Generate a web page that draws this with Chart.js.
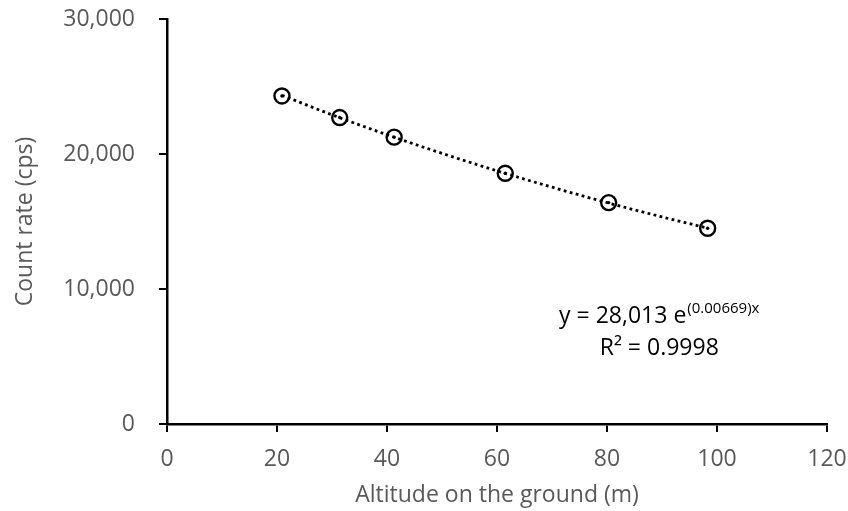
<!DOCTYPE html>
<html>
<head>
<meta charset="utf-8">
<script src="https://cdn.jsdelivr.net/npm/chart.js@4"></script>
<style>
  html, body { margin: 0; padding: 0; background: #fff; }
  canvas { display: block; }
</style>
</head>
<body>
<canvas id="c" width="848" height="511"></canvas>
<script>
// ---- data ----
const altitude = [20.9, 31.4, 41.3, 61.5, 80.3, 98.3];
const countRate = [24300, 22700, 21250, 18570, 16400, 14500];
// dotted trend line
const trendX = [20.9, 30, 40, 50, 60, 70, 80, 90, 98.3];
const trendY = [24350, 22900, 21430, 20050, 18750, 17540, 16400, 15340, 14510];
const xTicks = [0, 20, 40, 60, 80, 100, 120];
const yTicks = [0, 10000, 20000, 30000];
const xTitle = 'Altitude on the ground (m)';
const yTitle = 'Count rate (cps)';
const eqMain = 'y = 28,013 e';
const eqSup = '(0.00669)x';
const r2Label = 'R\u00B2 = 0.9998';

const FONT = '"Open Sans", "Liberation Sans", sans-serif';
const GREY = '#595959';
const FS = 23;

const pts = altitude.map((x, i) => ({ x, y: countRate[i] }));
const trend = trendX.map((x, i) => ({ x, y: trendY[i] }));

const eqPlugin = {
  id: 'eq',
  afterDraw(chart) {
    const ctx = chart.ctx;
    const xs = chart.scales.x, ys = chart.scales.y;
    const cx = xs.getPixelForValue(89.5);
    const y1 = ys.getPixelForValue(7500);
    const y2 = ys.getPixelForValue(5100);
    ctx.save();
    ctx.fillStyle = '#000';
    ctx.textBaseline = 'alphabetic';
    ctx.font = FS + 'px ' + FONT;
    const wMain = ctx.measureText(eqMain).width;
    ctx.font = '15px ' + FONT;
    const wSup = ctx.measureText(eqSup).width;
    const total = wMain + 1 + wSup;
    let x0 = cx - total / 2;
    ctx.font = FS + 'px ' + FONT;
    ctx.textAlign = 'left';
    ctx.fillText(eqMain, x0, y1);
    ctx.font = '15px ' + FONT;
    ctx.fillText(eqSup, x0 + wMain + 1, y1 - 10);
    ctx.font = FS + 'px ' + FONT;
    ctx.textAlign = 'center';
    ctx.fillText(r2Label, cx, y2);
    ctx.restore();
  }
};

new Chart(document.getElementById('c'), {
  type: 'scatter',
  data: {
    datasets: [
      {
        label: 'trend',
        data: trend,
        showLine: true,
        borderColor: '#000',
        borderWidth: 2.8,
        borderDash: [2.8, 3.4],
        pointRadius: 0,
        cubicInterpolationMode: 'monotone',
        fill: false,
        order: 3
      },
      {
        label: 'circles',
        data: pts,
        pointStyle: 'circle',
        pointRadius: 7.5,
        pointBorderWidth: 2.4,
        pointBorderColor: '#000',
        pointBackgroundColor: 'rgba(255,255,255,0)',
        showLine: false,
        order: 2
      },
      {
        label: 'dots',
        data: pts,
        pointStyle: 'circle',
        pointRadius: 1.7,
        pointBorderWidth: 0,
        pointBackgroundColor: '#000',
        showLine: false,
        order: 1
      }
    ]
  },
  options: {
    responsive: false,
    animation: false,
    devicePixelRatio: 1,
    layout: { padding: { top: 19, right: 21, left: 0, bottom: 0 } },
    plugins: { legend: { display: false }, tooltip: { enabled: false } },
    scales: {
      x: {
        type: 'linear',
        min: 0, max: 120,
        afterBuildTicks(s) { s.ticks = xTicks.map(v => ({ value: v })); },
        afterFit(s) { s.height = 87; s.paddingLeft = 0; s.paddingRight = 0; },
        grid: { drawOnChartArea: false, drawTicks: true, tickLength: 8, color: '#000', lineWidth: 2 },
        border: { color: '#000', width: 2.5 },
        ticks: { color: GREY, font: { family: FONT, size: FS }, padding: 14, maxRotation: 0 },
        title: { display: true, text: xTitle, color: GREY, font: { family: FONT, size: FS }, padding: { top: 0, bottom: 2 } }
      },
      y: {
        type: 'linear',
        min: 0, max: 30000,
        afterBuildTicks(s) { s.ticks = yTicks.map(v => ({ value: v })); },
        afterFit(s) { s.width = 167; s.paddingTop = 0; s.paddingBottom = 0; },
        grid: { drawOnChartArea: false, drawTicks: true, tickLength: 8, color: '#000', lineWidth: 2 },
        border: { color: '#000', width: 2.5 },
        ticks: { color: GREY, font: { family: FONT, size: FS }, padding: 24,
                 callback: v => v.toLocaleString('en-US') },
        title: { display: true, text: yTitle, color: GREY, font: { family: FONT, size: FS }, padding: { top: 12, bottom: 0 } }
      }
    }
  },
  plugins: [eqPlugin]
});
</script>
</body>
</html>
